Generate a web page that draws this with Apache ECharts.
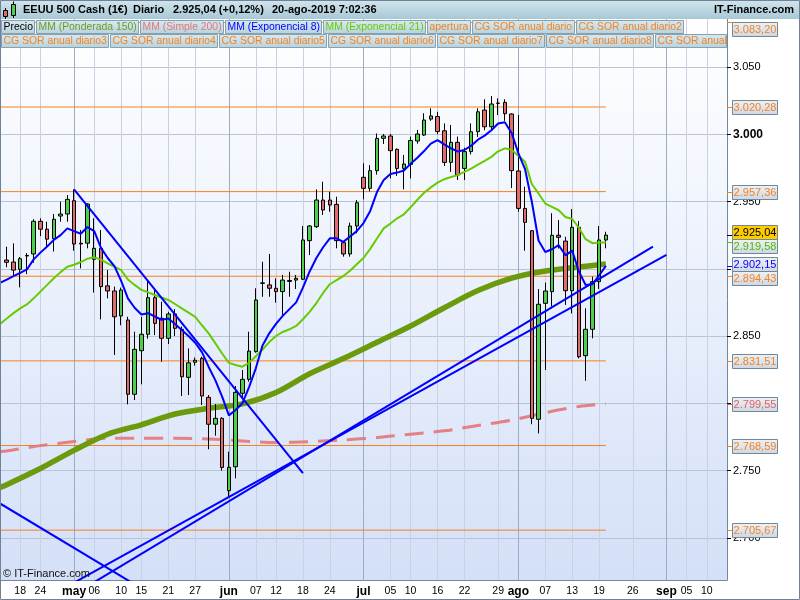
<!DOCTYPE html>
<html><head><meta charset="utf-8">
<script src="https://cdn.jsdelivr.net/npm/echarts@6/dist/echarts.min.js"></script>
<style>html,body{margin:0;padding:0;background:#fff}#c{width:800px;height:600px}</style>
</head><body><div id="c"></div>
<script>
const FONT = '"Liberation Sans", Arial, Helvetica, sans-serif';

// ---------- calendar / categories ----------
const firstDay = '2019-04-15', lastDay = '2019-09-13';
const closedDays = ['2019-04-19'];
function buildDates(start, end, skip) {
  const out = []; const d = new Date(start + 'T00:00:00Z'); const e = new Date(end + 'T00:00:00Z');
  while (d <= e) { const wd = d.getUTCDay(); const s = d.toISOString().slice(0, 10);
    if (wd !== 0 && wd !== 6 && skip.indexOf(s) < 0) out.push(s); d.setUTCDate(d.getUTCDate() + 1); }
  return out;
}
const categories = buildDates(firstDay, lastDay, closedDays);

// tick labels on the time axis
const labelDates = ['2019-04-18','2019-04-24','2019-05-01','2019-05-06','2019-05-10','2019-05-15','2019-05-21','2019-05-27',
  '2019-06-03','2019-06-07','2019-06-12','2019-06-18','2019-06-24','2019-07-01','2019-07-05','2019-07-10','2019-07-16',
  '2019-07-22','2019-07-29','2019-08-01','2019-08-07','2019-08-13','2019-08-19','2019-08-26','2019-09-02','2019-09-05','2019-09-10'];
const monthLabels = {'2019-05-01':'may','2019-06-03':'jun','2019-07-01':'jul','2019-08-01':'ago','2019-09-02':'sep'};
const yTicks = [2700, 2750, 2800, 2850, 2900, 2950, 3000, 3050];
const Y_MIN = 2668.6, Y_MAX = 3085.7;

// ---------- candles (2019-04-16 .. 2019-08-20) ----------
const candleStart = '2019-04-16';
const opens = [2906.5,2905,2899.6,2909.5,2911,2935.3,2929.4,2922.4,2939.2,2940.7,
2950.6,2919,2919,2907,2915.2,2887.3,2883.5,2864.9,2861.9,2806.7,
2839.1,2851.3,2878.5,2863.2,2848.3,2866.4,2855,2819.3,2830.5,2833.4,
2804.4,2784.4,2788.8,2735,2752.8,2807.4,2817.8,2838.4,2889.5,2888,
2885.5,2883,2890.6,2891.6,2892.2,2920.9,2931.3,2951.1,2951.1,2947.9,
2919.4,2911,2931.8,2968,2959.8,2972.9,2997,2998.7,2988.8,2974.6,
2977.6,2995,2999.4,3011.3,3013.2,3002.6,2979.1,2994,2974.6,2987.1,
3001.9,3018,3005.6,3023,3023.7,3015.1,2972.7,2944.9,2928.3,2788.1,
2874.3,2883,2924.9,2920.6,2883.7,2930.8,2835.4,2855,2890.4,2921.4];
const closes = [2904.8,2899,2907.5,2909.9,2935.3,2929.4,2922,2936.8,2940.7,2951.6,
2918.4,2918.4,2948.1,2915.2,2886.7,2883.5,2864.3,2884.2,2806.7,2840.1,
2851.3,2878.5,2859.4,2848.3,2866.4,2855.7,2819.7,2830.1,2832,2805.4,
2784.4,2788.8,2752.3,2752.4,2808.1,2817.8,2838.8,2876.8,2889.2,2885.5,
2883,2891.6,2891.3,2892.9,2921.4,2931.8,2951.1,2943.7,2947.4,2920.9,
2911,2931.8,2949.1,2959.8,2972.9,2996.9,2998.7,2987.8,2974.6,2977.9,
2995.4,3000.2,3010.6,3013.6,3002,2979.1,2994,2969.7,2987.1,3001.9,
3016.7,3005.6,3022.5,3023.2,3015.3,2973,2944.9,2934.5,2788.8,2873.6,
2883.5,2924.9,2923.4,2883.7,2930.8,2834.6,2855,2890.4,2921.4,2925.04];
const highs = [2916.4,2918.9,2908.7,2911.7,2936.8,2937.5,2935,2940.7,2949.9,2954.8,
2959,2928.8,2948.7,2937.5,2928.8,2899.1,2886.7,2886,2864.3,2853.2,
2864.3,2891.6,2884.2,2875.5,2868,2870,2857,2840.8,2834,2834.6,
2806.1,2799.4,2789.6,2764,2812.8,2824.7,2853.2,2885.5,2905.2,2911,
2892.9,2895.4,2897.8,2895.4,2931.8,2932.5,2959,2964.7,2957.3,2953.6,
2920.2,2934.3,2951.1,2978.4,2977.1,3000.6,3000.2,3000.2,2989.5,2984.6,
2998.3,3003.2,3015.6,3019.3,3016.7,3008.1,3006.9,2998.3,2990,3008.1,
3019.3,3026,3028.4,3026.7,3026,3015.6,3014.3,2961,2928.8,2884.9,
2889.7,2941.3,2936.2,2923.8,2944.4,2935.5,2870.6,2894.1,2931.8,2927.5];
const lows = [2901.1,2895.4,2886.2,2896,2904.5,2924.3,2915.4,2912.8,2935,2935,
2913.4,2900.3,2915.2,2882.3,2862.4,2878,2835.9,2858,2799.2,2802.4,
2814.1,2848,2850.7,2830.9,2844,2850,2805.4,2806.1,2828,2798.7,
2765.8,2775.9,2749.9,2730.1,2744.2,2804,2816,2837.6,2879.2,2879.2,
2874.8,2865.6,2879.2,2885,2891.6,2910.2,2930.3,2940,2942.4,2915.2,
2909,2909,2926.3,2951.6,2957.5,2970,2992.8,2967.2,2969,2959,
2967.2,2993,2998.7,3010,3000,2976.4,2972,2966,2966,2985,
2998,3003,3003,3014.3,3010,2960,2942.4,2913.4,2784.4,2777.6,
2824.7,2871.8,2915,2873.1,2866.8,2833.4,2816.8,2848.3,2885,2915.2];

// ---------- moving averages (from 2019-04-15) ----------
const ema8 = [2889.5,
2892,2894.5,2897,2899.5,2907,2912,2916.5,2921.5,2925,2930,
2928,2926,2931,2928,2915.5,2908,2902,2891,2878,2871,
2866,2867,2864.5,2862,2863,2859,2854.5,2850,2845,2838,
2827,2817,2805,2791,2795,2800,2812,2826,2843,2852,
2859,2865,2870,2875,2886,2898,2908,2916,2922.6,2922.6,
2920,2924,2928,2934,2943,2957,2966,2970.5,2971.5,2973,
2978,2982.5,2987.5,2993,2995.7,2992.5,2989.5,2987.2,2988.3,2991.5,
2996,2999,3003,3008,3009,3001,2986,2974,2950,2921,
2912.5,2914.5,2917.5,2910,2913.5,2898,2887.9,2888.5,2895,2902.15];
const ema21 = [2859,
2863,2867,2870.5,2873.5,2878,2883,2888,2893,2897.5,2901.5,
2903,2905,2907.5,2908.5,2906.8,2904,2901.5,2899,2892,2888,
2884.3,2882.5,2880.5,2878.6,2876.8,2873.8,2870.6,2867.4,2864.3,2858,
2852,2844.5,2837,2830,2828.5,2827.2,2830,2835,2840,2845.5,
2850,2853,2855,2857.5,2862.5,2868,2874.5,2882,2888.5,2891.5,
2894.6,2898.5,2903.3,2908,2914.8,2922.5,2930,2933.6,2937.5,2940.5,
2945.7,2951.3,2956.5,2960.5,2964,2966.6,2968.2,2969.6,2972,2974.5,
2977.4,2980.3,2983.2,2987.3,2989.5,2988.5,2984,2979.5,2963,2956,
2948.5,2946,2943.5,2938.5,2937,2930.5,2922,2919,2919.5,2919.58];
const wma150 = [['2019-04-15',2737.5],['2019-04-16',2739.5],['2019-04-24',2751.5],['2019-05-01',2765],['2019-05-08',2777],
 ['2019-05-15',2784],['2019-05-22',2792],['2019-05-29',2796.3],['2019-06-05',2799.5],['2019-06-12',2808],['2019-06-19',2822],
 ['2019-06-26',2833.2],['2019-07-03',2845.3],['2019-07-10',2857.4],['2019-07-17',2871],['2019-07-24',2883.8],['2019-07-31',2893],
 ['2019-08-07',2898.3],['2019-08-14',2901.3],['2019-08-20',2903.5]];
const sma200 = [['2019-04-15',2764],['2019-04-16',2764.5],['2019-04-24',2768.5],['2019-05-01',2771.5],['2019-05-08',2774],
 ['2019-05-15',2774],['2019-05-22',2774],['2019-05-29',2773.5],['2019-06-05',2772],['2019-06-12',2770.8],['2019-06-19',2771.5],
 ['2019-06-26',2772.8],['2019-07-03',2774.5],['2019-07-10',2777],['2019-07-17',2779.5],['2019-07-24',2783.5],['2019-07-31',2787.5],
 ['2019-08-07',2793],['2019-08-14',2797.6],['2019-08-20',2799.55]];

// ---------- drawn levels and trend lines ----------
const sorLevels = [3083.20, 3020.28, 2957.36, 2894.43, 2831.51, 2768.59, 2705.67];
const sorFrom = '2019-04-15', sorTo = '2019-08-20';
const trendLines = [
  [['2019-05-01', 2959], ['2019-06-18', 2748]],
  [['2019-05-01', 2666.6], ['2019-09-02', 2910.4]],
  [['2019-05-06', 2667], ['2019-08-29', 2916.5]],
  [['2019-04-15', 2725.5], ['2019-05-14', 2665.4]]
];
const changeText = '(+0,12%)';
const stampText = '20-ago-2019 7:02:36';

const C = { up:'#4ccf4c', down:'#e36a6a', ema8:'#0000ff', ema21:'#66cc00', wma:'#6b9a0c', wmaText:'#6a9d24',
  sma:'#e47676', orange:'#f5821f', hgrid:'#b9c3d6', vgrid:'#c9d1e3', mgrid:'#9eabc4', axis:'#6f8aa0' };

function fmtES(v) { const p = v.toFixed(2).split('.'); return p[0].replace(/\B(?=(\d{3})+(?!\d))/g, '.') + ',' + p[1]; }
function fmtInt(v) { return String(Math.round(v)).replace(/\B(?=(\d{3})+(?!\d))/g, '.'); }
function lg(a, b) { return new echarts.graphic.LinearGradient(0, 0, 0, 1, [{offset:0,color:a},{offset:1,color:b}]); }

const offset = categories.indexOf(candleStart);
const candleData = categories.map((d, k) => {
  const i = k - offset;
  return (i >= 0 && i < opens.length) ? [opens[i], closes[i], lows[i], highs[i]] : '-';
});
const labelSet = new Set(labelDates);

const series = [];
sorLevels.forEach(v => series.push({ type:'line', data:[[sorFrom, v], [sorTo, v]], symbol:'none', silent:true,
  lineStyle:{ color:C.orange, width:1 }, z:2 }));
series.push({ type:'line', name:'MM (Simple 200)', data:sma200, symbol:'none', smooth:0.3,
  lineStyle:{ color:C.sma, width:3, type:[19, 10], opacity:0.9 }, z:2 });
series.push({ type:'line', name:'MM (Ponderada 150)', data:wma150, symbol:'none', smooth:0.3,
  lineStyle:{ color:C.wma, width:5.5 }, z:2 });
series.push({ type:'candlestick', name:'Precio', data:candleData, barWidth:4,
  itemStyle:{ color:C.up, color0:C.down, borderColor:'#000', borderColor0:'#000', borderWidth:1 }, z:3 });
series.push({ type:'line', name:'MM (Exponencial 21)', data:ema21, symbol:'none', lineStyle:{ color:C.ema21, width:2 }, z:4 });
series.push({ type:'line', name:'MM (Exponencial 8)', data:ema8, symbol:'none', lineStyle:{ color:C.ema8, width:2 }, z:4 });
trendLines.forEach(t => series.push({ type:'line', data:t, symbol:'none', lineStyle:{ color:C.ema8, width:2 }, z:5 }));

const chart = echarts.init(document.getElementById('c'), null, { renderer:'canvas' });
chart.setOption({
  animation:false,
  backgroundColor:'#ffffff',
  grid:{ left:-1, right:73, top:19, bottom:20, show:true, borderWidth:0, backgroundColor: lg('#ffffff', '#d4e0f8') },
  xAxis:[{
    type:'category', data:categories, boundaryGap:false,
    axisLine:{ show:true, lineStyle:{ color:C.axis } }, axisTick:{ show:false },
    axisLabel:{ interval:(i, v) => labelSet.has(v), margin:6, color:'#000', fontSize:10.5, fontFamily:FONT,
      formatter: v => monthLabels[v] ? '{m|' + monthLabels[v] + '}' : v.slice(8, 10),
      rich:{ m:{ fontWeight:'bold', fontSize:12, fontFamily:FONT, color:'#000' } } },
    splitLine:{ show:true, interval:(i, v) => labelSet.has(v), lineStyle:{ color:C.vgrid } }
  }, {
    type:'category', data:categories, boundaryGap:false, position:'bottom',
    axisLine:{ show:false }, axisTick:{ show:false }, axisLabel:{ show:false },
    splitLine:{ show:true, interval:(i, v) => !!monthLabels[v], lineStyle:{ color:C.mgrid } }
  }],
  yAxis:{
    type:'value', position:'right', min:Y_MIN, max:Y_MAX, scale:true,
    axisLine:{ show:true, lineStyle:{ color:C.axis } },
    axisTick:{ show:true, length:4, customValues:yTicks, lineStyle:{ color:'#000' } },
    axisLabel:{ customValues:yTicks, margin:6, color:'#000', fontSize:11, fontFamily:FONT,
      formatter: v => v === 3000 ? '{b|' + fmtInt(v) + '}' : fmtInt(v),
      rich:{ b:{ fontWeight:'bold', fontSize:12, fontFamily:FONT, color:'#000' } } },
    splitLine:{ show:true, lineStyle:{ color:C.hgrid } }
  },
  series
});

// ---------- overlays: title bar, legend boxes, value boxes ----------
const g = [];
g.push({ type:'rect', shape:{ x:0, y:0, width:800, height:19 }, style:{ fill: lg('#d2e5ec', '#a8c8d6') }, z:100 });
// small icon
g.push({ type:'line', shape:{ x1:5.5, y1:8, x2:5.5, y2:19 }, style:{ stroke:'#000', lineWidth:1 }, z:101 });
g.push({ type:'rect', shape:{ x:3.5, y:10.5, width:4, height:6 }, style:{ fill:C.down, stroke:'#000', lineWidth:1 }, z:102 });
g.push({ type:'line', shape:{ x1:13.5, y1:1.5, x2:13.5, y2:18 }, style:{ stroke:'#000', lineWidth:1 }, z:101 });
g.push({ type:'rect', shape:{ x:11.5, y:4.5, width:4, height:11 }, style:{ fill:C.up, stroke:'#000', lineWidth:1 }, z:102 });
const titleParts = [['EEUU 500 Cash (1€)', 23], ['Diario', 133], [fmtES(closes[closes.length - 1]) + ' ' + changeText, 173], [stampText, 272]];
titleParts.forEach(p => g.push({ type:'text', x:p[1], y:10, z:103,
  style:{ text:p[0], fill:'#000', font:'bold 11px ' + FONT, textVerticalAlign:'middle', verticalAlign:'middle' } }));
g.push({ type:'text', x:794, y:10, z:103, style:{ text:'IT-Finance.com', fill:'#000', font:'bold 11px ' + FONT,
  textAlign:'right', align:'right', textVerticalAlign:'middle', verticalAlign:'middle' } });

const legendRow1 = [['Precio', '#000'], ['MM (Ponderada 150)', C.wmaText], ['MM (Simple 200)', C.sma], ['MM (Exponencial 8)', C.ema8],
  ['MM (Exponencial 21)', C.ema21], ['apertura', C.orange], ['CG SOR anual diario', C.orange], ['CG SOR anual diario2', C.orange]];
const legendRow2 = [['CG SOR anual diario3', C.orange], ['CG SOR anual diario4', C.orange], ['CG SOR anual diario5', C.orange],
  ['CG SOR anual diario6', C.orange], ['CG SOR anual diario7', C.orange], ['CG SOR anual diario8', C.orange], ['CG SOR anual', C.orange, true]];
const mctx = document.createElement('canvas').getContext('2d');
const LFONT = '10.4px ' + FONT;
mctx.font = LFONT;
function legendRow(items, y) {
  let x = 1;
  items.forEach(it => {
    let w = Math.round(mctx.measureText(it[0]).width + 4);
    if (it[2]) w = 726 - x;
    g.push({ type:'rect', shape:{ x:x + 0.5, y:y + 0.5, width:w, height:13 }, style:{ fill: lg('#d9eaf0', '#b7d2dd'), stroke:'#86a2b2', lineWidth:1 }, z:104 });
    g.push({ type:'text', x:x + 2.5, y:y + 7.5, z:105, style:{ text:it[0], fill:it[1], font:LFONT, textVerticalAlign:'middle', verticalAlign:'middle' } });
    x += w + 2;
  });
}
legendRow(legendRow1, 20);
legendRow(legendRow2, 34);

g.push({ type:'text', x:3, y:574, z:103, style:{ text:'© IT-Finance.com', fill:'#111', font:'11px ' + FONT, textVerticalAlign:'middle', verticalAlign:'middle' } });

// value boxes on the price axis
const boxes = sorLevels.map(v => ({ v, color:C.orange }));
boxes.push({ v:closes[closes.length - 1], color:'#000', bg:'#ffcc00' });
boxes.push({ v:ema21[ema21.length - 1], color:'#4fb800' });
boxes.push({ v:ema8[ema8.length - 1], color:C.ema8 });
boxes.push({ v:sma200[sma200.length - 1][1], color:'#e06060' });
boxes.forEach(b => { b.y0 = chart.convertToPixel({ yAxisIndex:0 }, b.v); });
const BH = 14.5;
boxes.sort((a, b) => a.y0 - b.y0);
let groups = boxes.map(b => ({ items:[b] }));
function place(gr) {
  const n = gr.items.length; let c = gr.items.reduce((s, it) => s + it.y0, 0) / n;
  const top = c - (n - 1) * BH / 2; const minTop = 28.5; const sh = top < minTop ? minTop - top : 0;
  gr.items.forEach((it, k) => { it.y = top + sh + k * BH; });
}
groups.forEach(place);
let merged = true;
while (merged) {
  merged = false;
  for (let k = 0; k < groups.length - 1; k++) {
    const a = groups[k], b = groups[k + 1];
    if (b.items[0].y - a.items[a.items.length - 1].y < BH) { a.items = a.items.concat(b.items); groups.splice(k + 1, 1); place(a); merged = true; break; }
  }
}
boxes.forEach(b => {
  const ty = Math.round(b.y0) + 0.5;
  g.push({ type:'line', shape:{ x1:727, y1:ty, x2:732, y2:ty }, style:{ stroke:b.color, lineWidth:1 }, z:106 });
  const top = Math.round(b.y - 7) + 0.5;
  g.push({ type:'rect', shape:{ x:732.5, y:top, width:45, height:14 }, style:{ fill: b.bg ? b.bg : lg('#eef2f7', '#cdd7e3'), stroke:'#71889b', lineWidth:1 }, z:106 });
  g.push({ type:'text', x:755, y:top + 7.5, z:107, style:{ text:fmtES(b.v), fill:b.color, font:'11px ' + FONT,
    textAlign:'center', align:'center', textVerticalAlign:'middle', verticalAlign:'middle' } });
});
// outer frame
g.push({ type:'rect', shape:{ x:0.5, y:0.5, width:799, height:599 }, style:{ fill:'none', stroke:'#6f8296', lineWidth:1 }, z:110 });

chart.setOption({ graphic:{ elements:g } });
</script></body></html>
